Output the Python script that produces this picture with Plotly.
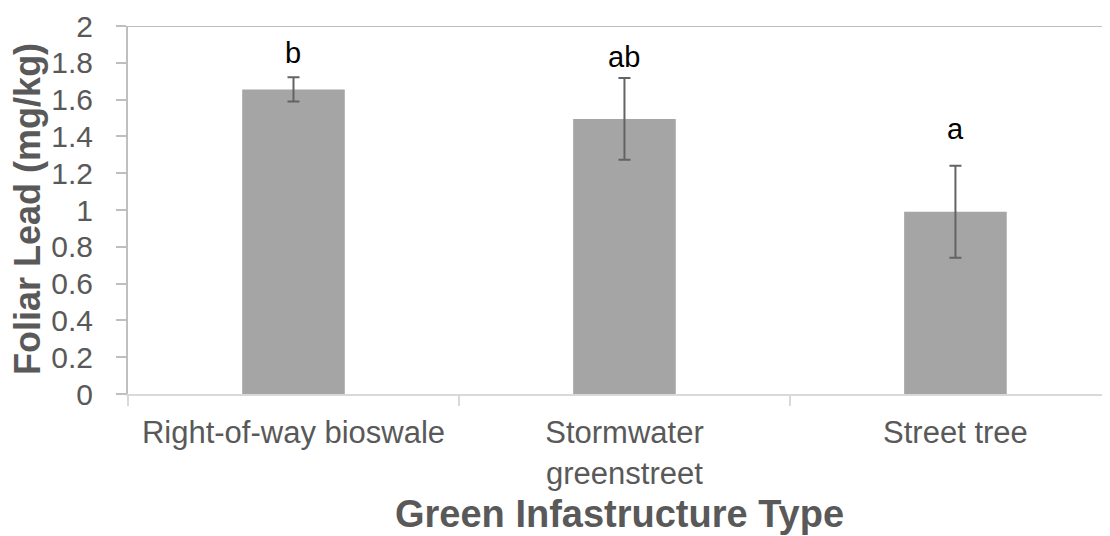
import plotly.graph_objects as go

categories = ["Right-of-way bioswale", "Stormwater<br>greenstreet", "Street tree"]
means = [1.655, 1.495, 0.99]
errors = [0.066, 0.222, 0.25]
letters = ["b", "ab", "a"]
letter_y = [1.80, 1.778, 1.388]
y_ticks = [0, 0.2, 0.4, 0.6, 0.8, 1, 1.2, 1.4, 1.6, 1.8, 2]
y_tick_text = ["0", "0.2", "0.4", "0.6", "0.8", "1", "1.2", "1.4", "1.6", "1.8", "2"]

FONT = "Liberation Sans, Arial, sans-serif"

fig = go.Figure()
fig.add_trace(go.Bar(
    x=categories, y=means, width=0.31,
    marker=dict(color="#A5A5A5", line=dict(width=0)),
    error_y=dict(type="data", array=errors, visible=True,
                 color="#636363", thickness=2, width=6),
    showlegend=False,
))

for c, t, ly in zip(categories, letters, letter_y):
    fig.add_annotation(x=c, y=ly, text=t, showarrow=False,
                       xref="x", yref="y", yanchor="bottom", yshift=-8,
                       font=dict(family=FONT, size=29, color="#000000"))

fig.add_annotation(x=0.5, y=-0.364, xref="paper", yref="paper",
                   text="<b>Green Infastructure Type</b>", showarrow=False,
                   yanchor="bottom", yshift=-9,
                   font=dict(family=FONT, size=38, color="#595959"))
fig.add_annotation(x=-0.1018, y=0.503, xref="paper", yref="paper",
                   text="<b>Foliar Lead (mg/kg)</b>", showarrow=False,
                   textangle=-90, xanchor="center", yanchor="middle",
                   font=dict(family=FONT, size=36, color="#595959"))

fig.add_shape(type="line", xref="paper", yref="y", x0=-0.0102, x1=1, y0=2, y1=2,
              line=dict(color="#BFBFBF", width=2))

# page body has an 8px margin, so the figure is offset by (8, 8)
fig.update_layout(
    width=1102, height=528,
    margin=dict(l=120, r=0, t=18, b=142, autoexpand=False),
    paper_bgcolor="white", plot_bgcolor="white",
    font=dict(family=FONT, size=30, color="#595959"),
    xaxis=dict(
        type="category", range=[-0.5, 2.467],
        showline=True, linecolor="#D9D9D9", linewidth=2,
        ticks="outside", tickson="boundaries", ticklen=10, tickwidth=2, tickcolor="#D9D9D9",
        showgrid=False, zeroline=False, ticklabelstandoff=10,
        tickfont=dict(family=FONT, size=31, color="#595959"),
    ),
    yaxis=dict(
        range=[0, 2], tickvals=y_ticks, ticktext=y_tick_text,
        showline=True, linecolor="#BFBFBF", linewidth=2,
        ticks="outside", ticklen=10, tickwidth=2, tickcolor="#BFBFBF",
        showgrid=False, zeroline=False, ticklabelstandoff=17,
        tickfont=dict(family=FONT, size=30, color="#595959"),
    ),
)

fig.write_html("out.html")
